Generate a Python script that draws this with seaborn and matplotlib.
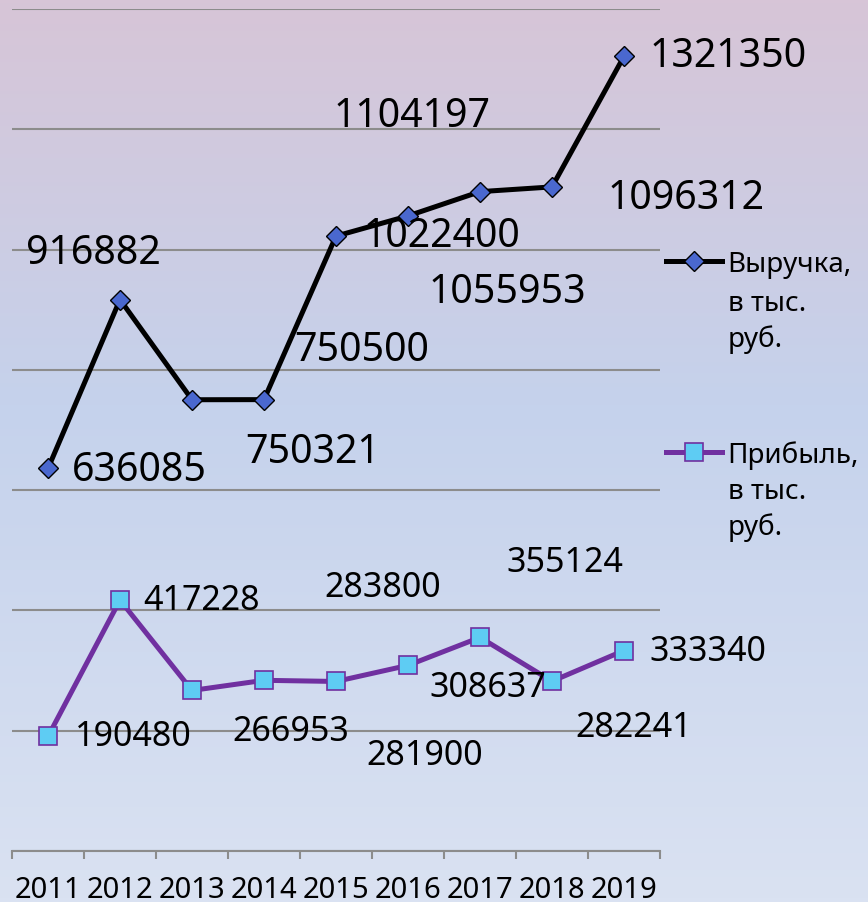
import numpy as np
import pandas as pd
import matplotlib
matplotlib.use('Agg')
import matplotlib.pyplot as plt
import seaborn as sns
from matplotlib.lines import Line2D
from matplotlib.colors import LinearSegmentedColormap

############### Данные ###############

years = ['2011', '2012', '2013', '2014', '2015', '2016', '2017', '2018', '2019']
vyruchka = [636085, 916882, 750321, 750500, 1022400, 1055953, 1096312, 1104197, 1321350]
pribyl = [190480, 417228, 266953, 283800, 281900, 308637, 355124, 282241, 333340]

# смещения подписей от точек, в пикселях (x вправо, y вниз)
off_v = [(91, 2), (-27, -47), (121, 52), (98, -50), (106, 0), (99, 76), (206, 6), (-140, -71), (104, 0)]
off_p = [(85, 0), (82, 0), (99, 41), (119, -93), (89, 74), (80, 22), (85, -75), (82, 46), (84, 0)]

df = pd.DataFrame({'Год': years, 'Выручка': vyruchka, 'Прибыль': pribyl})

############### Оформление ###############

plt.rcParams['font.family'] = ['Noto Sans', 'DejaVu Sans']

fig = plt.figure(figsize=(8.68, 9.03), dpi=100)

# фон с градиентом
bg = fig.add_axes([0, 0, 1, 1], zorder=0)
cmap = LinearSegmentedColormap.from_list('bg', [(0, '#D7C5D7'), (0.45, '#C5D2EC'), (1, '#DAE2F2')])
bg.imshow(np.linspace(0, 1, 256).reshape(-1, 1), aspect='auto', cmap=cmap, extent=[0, 1, 0, 1])
bg.axis('off')

ax = fig.add_axes([12 / 868, 1 - 852 / 903, 648 / 868, 842 / 903], zorder=1)
ax.set_facecolor('none')

line_v = dict(color='black', lw=3.6, marker='D', ms=10, mfc='#4A68CF', mec='black', mew=1)
line_p = dict(color='#7030A0', lw=3.6, marker='s', ms=13, mfc='#5ECCF3', mec='#7030A0', mew=1.2)

sns.lineplot(data=df, x='Год', y='Выручка', ax=ax, legend=False, sort=False, **line_v)
sns.lineplot(data=df, x='Год', y='Прибыль', ax=ax, legend=False, sort=False, **line_p)

# подписи значений
for i, v in enumerate(vyruchka):
    dx, dy = off_v[i]
    ax.annotate(str(v), xy=(i, v), xytext=(dx * 0.72, -dy * 0.72), textcoords='offset points',
                ha='center', va='center', fontsize=28.3, color='black')
for i, v in enumerate(pribyl):
    dx, dy = off_p[i]
    ax.annotate(str(v), xy=(i, v), xytext=(dx * 0.72, -dy * 0.72), textcoords='offset points',
                ha='center', va='center', fontsize=24.5, color='black')

# оси
ax.set_xlim(-0.5, 8.5)
ax.set_ylim(0, 1400000)
ax.set_yticks(np.arange(0, 1400001, 200000))
ax.set_yticklabels([])
ax.set_xticks(range(len(years)))
ax.set_xticklabels(years)
ax.set_xticks(np.arange(-0.5, 9, 1), minor=True)
ax.tick_params(axis='y', length=0)
ax.tick_params(axis='x', which='major', length=0, pad=17, labelsize=21)
ax.tick_params(axis='x', which='minor', length=6, width=1.5, color='#8C8C8C')
ax.yaxis.grid(True, color='#8C8C8C', lw=1.5)
ax.set_axisbelow(True)
for s in ['left', 'right', 'top']:
    ax.spines[s].set_visible(False)
ax.spines['bottom'].set_color('#8C8C8C')
ax.spines['bottom'].set_linewidth(1.5)
ax.set_xlabel('')
ax.set_ylabel('')

# легенда: маркер у первой строки подписи
h1 = Line2D([], [], **line_v)
h2 = Line2D([], [], **line_p)
leg = ax.legend([h1, h2], ['Выручка,', 'Прибыль,'],
                loc='upper left', bbox_to_anchor=(666 / 868, 1 - 251 / 903), bbox_transform=fig.transFigure,
                frameon=False, fontsize=20, handlelength=2.0, handletextpad=0.2,
                labelspacing=5.84, borderpad=0, borderaxespad=0)
for base in [275, 463]:
    for k, s in enumerate(['в тыс.', 'руб.']):
        fig.text(728 / 868, 1 - (base + 36 * (k + 1)) / 903, s, fontsize=20, va='baseline', ha='left')

fig.savefig('out.png', dpi=100)
